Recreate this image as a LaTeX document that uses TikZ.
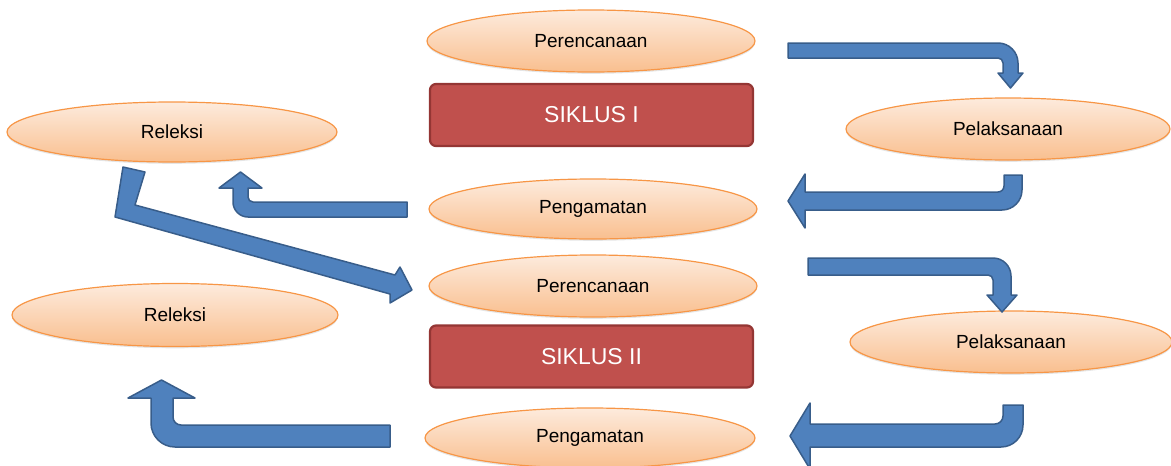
\documentclass[tikz,border=0pt]{standalone}
\usepackage{fontspec}
\setmainfont{Liberation Sans}
\usetikzlibrary{shapes.geometric,shadows}
\definecolor{ellTop}{HTML}{FDEBDD}
\definecolor{ellBot}{HTML}{F9BF8F}
\definecolor{ellLine}{HTML}{F79646}
\definecolor{boxFill}{HTML}{C0504D}
\definecolor{boxLine}{HTML}{943634}
\definecolor{arrFill}{HTML}{4F81BD}
\definecolor{arrLine}{HTML}{385D8A}
\tikzset{
  stage/.style={ellipse, draw=ellLine, line width=1.2pt, top color=ellTop, bottom color=ellBot,
    inner sep=0pt, minimum width=328pt, minimum height=62pt,
    font=\fontsize{19}{21}\selectfont, text=black,
    drop shadow={shadow xshift=0pt, shadow yshift=-1.8pt, opacity=0.10, fill=black}},
  cyclebox/.style={rectangle, rounded corners=6pt, draw=boxLine, line width=2.2pt, fill=boxFill,
    inner sep=0pt, minimum width=323pt, minimum height=62pt,
    font=\fontsize{23}{25}\selectfont, text=white},
  blockarrow/.style={fill=arrFill, draw=arrLine, line width=1.5pt, line join=round}
}
\begin{document}
\begin{tikzpicture}[x=1pt,y=-1pt]
\useasboundingbox (0,0) rectangle (1171,466);

% nodes
\node[stage] (per1) at (591,41) {Perencanaan};
\node[cyclebox] (sik1) at (591.5,115) {SIKLUS I};
\node[stage, minimum width=324pt] (pel1) at (1008,129) {Pelaksanaan};
\node[stage, minimum width=330pt, minimum height=60pt] (rel1) at (172,132) {Releksi};
\node[stage, minimum width=328pt, minimum height=60pt] (pen1) at (593,209) {Pengamatan};
\node[stage] (per2) at (593,286) {Perencanaan};
\node[stage, minimum width=326pt, minimum height=63pt] (rel2) at (175,315) {Releksi};
\node[cyclebox] (sik2) at (591.5,356.5) {SIKLUS II};
\node[stage, minimum width=322pt] (pel2) at (1011,342) {Pelaksanaan};
\node[stage, minimum width=330pt, minimum height=60pt] (pen2) at (590,438) {Pengamatan};

% arrow 1: Perencanaan I -> Pelaksanaan I
\draw[blockarrow] (788,43) [rounded corners=20pt] -- (1018,43) [sharp corners] -- (1018,73)
  -- (1023,73) -- (1010.5,88) -- (998,73) -- (1003,73) [rounded corners=5pt] -- (1003,58)
  [sharp corners] -- (788,58) -- cycle;

% arrow 2: Pelaksanaan I -> Pengamatan I
\draw[blockarrow] (1004,175) -- (1022,175) [rounded corners=20pt] -- (1022,210) [sharp corners]
  -- (805,210) -- (805,228) -- (788,201) -- (805,174) -- (805,192) [rounded corners=6pt]
  -- (1004,192) [sharp corners] -- cycle;

% arrow 3: Pengamatan I -> Releksi I
\draw[blockarrow] (407,202) [rounded corners=5pt] -- (248,202) [sharp corners] -- (248,188)
  -- (262,188) -- (240.5,172) -- (219,188) -- (233,188) [rounded corners=15pt] -- (233,217)
  [sharp corners] -- (407,217) -- cycle;

% arrow 4: Releksi I -> Perencanaan II
\draw[blockarrow] (123,167) -- (145,172) -- (135,205) -- (395,275) -- (400,267) -- (412,290)
  -- (390,303) -- (390,294) -- (115,217) -- cycle;

% arrow 5: Perencanaan II -> Pelaksanaan II
\draw[blockarrow] (808,258) [rounded corners=18pt] -- (1011,258) [sharp corners] -- (1011,295)
  -- (1017,295) -- (1002,312) -- (987,295) -- (993,295) [rounded corners=5pt] -- (993,275)
  [sharp corners] -- (808,275) -- cycle;

% arrow 6: Pelaksanaan II -> Pengamatan II
\draw[blockarrow] (1003,405) -- (1023,405) [rounded corners=22pt] -- (1023,447) [sharp corners]
  -- (810,447) -- (810,469) -- (790,436) -- (810,403) -- (810,424) [rounded corners=8pt]
  -- (1003,424) [sharp corners] -- cycle;

% arrow 7: Pengamatan II -> Releksi II
\draw[blockarrow] (390,425) [rounded corners=8pt] -- (173,425) [sharp corners] -- (173,398)
  -- (195,398) -- (161.5,380) -- (128,398) -- (151,398) [rounded corners=24pt] -- (151,447)
  [sharp corners] -- (390,447) -- cycle;
\end{tikzpicture}
\end{document}
